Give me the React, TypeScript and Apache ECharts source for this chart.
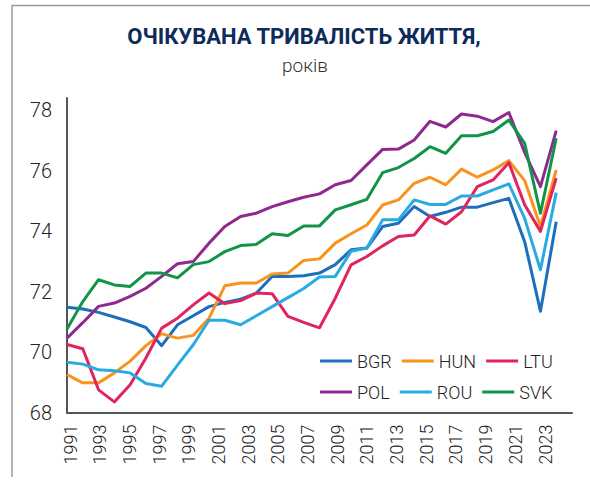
import React, { useEffect, useRef } from "react";
import * as echarts from "echarts";

// Category labels (axis has one extra slot after the last data point)
const YEARS = [
  "1991", "1992", "1993", "1994", "1995", "1996", "1997", "1998", "1999", "2000",
  "2001", "2002", "2003", "2004", "2005", "2006", "2007", "2008", "2009", "2010",
  "2011", "2012", "2013", "2014", "2015", "2016", "2017", "2018", "2019", "2020",
  "2021", "2022", "2023",
];

const BGR = [71.48, 71.42, 71.31, 71.16, 71.0, 70.81, 70.21, 70.9, 71.2, 71.5, 71.64, 71.75, 71.95, 72.5, 72.5, 72.52, 72.61, 72.89, 73.38, 73.44, 74.15, 74.26, 74.81, 74.48, 74.62, 74.79, 74.79, 74.94, 75.08, 73.65, 71.35, 74.31];
const HUN = [69.25, 68.98, 68.98, 69.31, 69.7, 70.21, 70.6, 70.46, 70.55, 71.12, 72.19, 72.28, 72.28, 72.58, 72.61, 73.03, 73.08, 73.6, 73.91, 74.2, 74.86, 75.03, 75.58, 75.78, 75.53, 76.05, 75.78, 76.02, 76.33, 75.67, 74.15, 76.02];
const LTU = [70.25, 70.11, 68.75, 68.35, 68.92, 69.8, 70.79, 71.12, 71.56, 71.95, 71.6, 71.7, 71.95, 71.93, 71.18, 70.98, 70.8, 71.78, 72.88, 73.16, 73.51, 73.82, 73.87, 74.5, 74.23, 74.64, 75.47, 75.69, 76.26, 74.87, 73.99, 75.75];
const POL = [70.46, 70.97, 71.51, 71.62, 71.84, 72.11, 72.5, 72.92, 72.99, 73.6, 74.15, 74.48, 74.59, 74.81, 74.97, 75.12, 75.23, 75.53, 75.67, 76.19, 76.7, 76.71, 77.01, 77.63, 77.44, 77.87, 77.8, 77.62, 77.92, 76.6, 75.47, 77.32];
const ROU = [69.66, 69.6, 69.41, 69.38, 69.31, 68.96, 68.87, 69.57, 70.24, 71.05, 71.05, 70.9, 71.2, 71.5, 71.8, 72.1, 72.48, 72.5, 73.33, 73.44, 74.37, 74.37, 75.03, 74.88, 74.88, 75.16, 75.16, 75.36, 75.56, 74.42, 72.72, 75.27];
const SVK = [70.76, 71.67, 72.39, 72.22, 72.17, 72.61, 72.61, 72.45, 72.89, 72.99, 73.32, 73.52, 73.56, 73.91, 73.85, 74.17, 74.17, 74.7, 74.87, 75.05, 75.93, 76.1, 76.4, 76.79, 76.57, 77.15, 77.15, 77.29, 77.67, 76.9, 74.59, 77.07];

const SERIES_NAMES = ["BGR", "HUN", "LTU", "POL", "ROU", "SVK"];
const SERIES_DATA = [BGR, HUN, LTU, POL, ROU, SVK];
const COLORS = ["#1c6fbd", "#f7941d", "#e0245e", "#8e2a8f", "#29abe2", "#119447"];

const TITLE = "ОЧІКУВАНА ТРИВАЛІСТЬ ЖИТТЯ,";
const SUBTITLE = "років";

const FONT = "Roboto, 'Noto Sans', sans-serif";

export default function App() {
  const ref = useRef<HTMLDivElement>(null);

  useEffect(() => {
    if (!ref.current) return;
    const chart = echarts.init(ref.current, null, { renderer: "svg" });

    const series = SERIES_NAMES.map((name, i) => ({
      name,
      type: "line",
      xAxisIndex: 0,
      yAxisIndex: 0,
      data: SERIES_DATA[i],
      showSymbol: false,
      symbol: "none",
      lineStyle: { width: 3, color: COLORS[i], join: "round" },
      itemStyle: { color: COLORS[i] },
    }));

    const legendBase = {
      left: 320,
      orient: "horizontal",
      icon: "rect",
      itemWidth: 32,
      itemHeight: 3,
      itemGap: 10,
      padding: 0,
      selectedMode: false,
      textStyle: { fontSize: 18, color: "#222", fontFamily: FONT, fontWeight: 300, width: 43 },
    };

    chart.setOption({
      animation: false,
      backgroundColor: "#ffffff",
      color: COLORS,
      grid: [
        { left: 67, right: 18, top: 98, bottom: 73.5 },
        { left: 70, right: 45, top: 98, bottom: 73.5 },
      ],
      xAxis: [
        {
          gridIndex: 0,
          type: "category",
          data: YEARS,
          boundaryGap: false,
          axisLine: { show: true, lineStyle: { color: "#555", width: 2 } },
          axisTick: { show: false },
          axisLabel: { show: false },
          splitLine: { show: false },
        },
        {
          gridIndex: 1,
          type: "category",
          data: YEARS,
          boundaryGap: false,
          axisLine: { show: false },
          axisTick: { show: false },
          splitLine: { show: false },
          axisLabel: {
            interval: 1,
            rotate: 90,
            fontSize: 18,
            fontWeight: 300,
            color: "#222",
            margin: 12,
            fontFamily: FONT,
          },
        },
      ],
      yAxis: [
        {
          gridIndex: 0,
          type: "value",
          min: 68,
          max: 78.4,
          interval: 2,
          axisLine: { show: true, lineStyle: { color: "#555", width: 2 } },
          axisTick: { show: false },
          splitLine: { show: false },
          axisLabel: {
            fontSize: 20,
            fontWeight: 300,
            color: "#222",
            margin: 15,
            fontFamily: FONT,
            formatter: (v: number) => (Math.abs(v % 2) < 1e-6 ? String(v) : ""),
          },
        },
        { gridIndex: 1, type: "value", show: false, min: 68, max: 78.4 },
      ],
      legend: [
        { ...legendBase, top: 352, data: ["BGR", "HUN", "LTU"] },
        { ...legendBase, top: 383, data: ["POL", "ROU", "SVK"] },
      ],
      graphic: [
        {
          type: "line",
          shape: { x1: 12, y1: 5.5, x2: 590, y2: 5.5 },
          style: { stroke: "#9a9a9a", lineWidth: 1.5 },
        },
        {
          type: "line",
          shape: { x1: 12, y1: 5, x2: 12, y2: 477 },
          style: { stroke: "#9a9a9a", lineWidth: 1.5 },
        },
        {
          type: "text",
          x: 304,
          y: 36,
          style: {
            text: TITLE,
            fill: "#0d2b5b",
            font: `bold 22px ${FONT}`,
            textAlign: "center",
            textVerticalAlign: "middle",
          },
        },
        {
          type: "text",
          x: 305,
          y: 65,
          style: {
            text: SUBTITLE,
            fill: "#333",
            font: `300 19px ${FONT}`,
            textAlign: "center",
            textVerticalAlign: "middle",
          },
        },
      ],
      series,
    });

    return () => chart.dispose();
  }, []);

  return (
    <div
      ref={ref}
      style={{ position: "fixed", left: 0, top: 0, width: 590, height: 486 }}
    />
  );
}
